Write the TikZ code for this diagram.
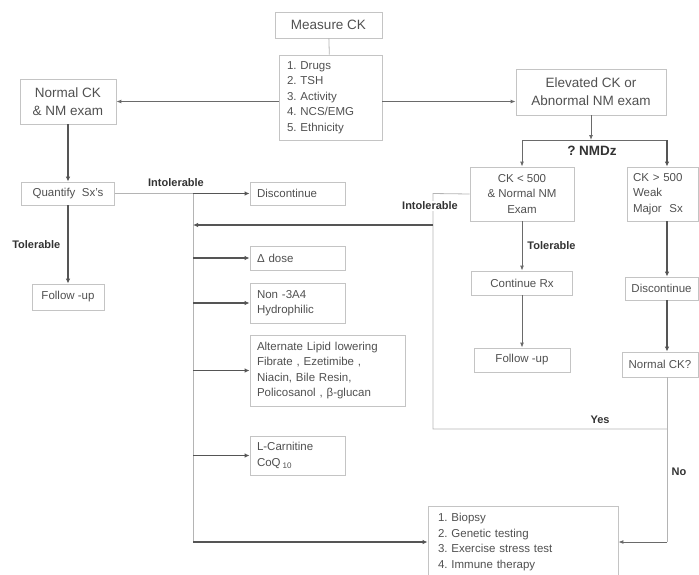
\documentclass[tikz,border=0pt]{standalone}
\usepackage{fontspec}
\setmainfont{Liberation Sans}
\usetikzlibrary{arrows.meta}
\definecolor{boxline}{HTML}{C4C4C4}
\definecolor{boxtext}{HTML}{505050}
\definecolor{heavy}{HTML}{555555}
\definecolor{medium}{HTML}{6A6A6A}
\definecolor{light}{HTML}{B4B4B4}

\begin{document}
\frenchspacing
\begin{tikzpicture}[x = 1pt, y = -1pt,
    box/.style = {draw = boxline, line width = .8pt, text = boxtext, inner sep = 0pt,
                  font = \fontsize{11.5}{15.5}\selectfont, align = center},
    bigbox/.style = {box, font = \fontsize{13.5}{18}\selectfont},
    lbox/.style = {box, align = left},
    lbl/.style = {text = black!80, inner sep = 1pt, font = \fontsize{11}{13}\selectfont\bfseries},
    heavy arrow/.style = {draw = heavy, line width = 1.3pt, -{Latex[length = 5pt, width = 4.5pt]}},
    mid arrow/.style = {draw = medium, line width = .9pt, -{Latex[length = 5pt, width = 4pt]}},
    mid line/.style = {draw = medium, line width = .9pt},
    thin line/.style = {draw = light, line width = .8pt}]
  \useasboundingbox (0, 0) rectangle (699, 574);
  \clip (0, 0) rectangle (699, 574);

  % top
  \node[bigbox, minimum width = 107, minimum height = 26] (measure) at (328.5, 25) {Measure CK};
  \node[lbox, minimum width = 103, minimum height = 85, text width = 87] (checks) at (330.5, 97.5)
    {1. Drugs\\2. TSH\\3. Activity\\4. NCS/EMG\\5. Ethnicity};
  \node[bigbox, minimum width = 96, minimum height = 45] (normal) at (68, 101.5) {Normal CK\\\& NM exam};
  \node[bigbox, minimum width = 150, minimum height = 46] (elevated) at (591, 92) {Elevated CK or\\Abnormal NM exam};

  % left branch
  \node[box, minimum width = 93, minimum height = 23] (quantify) at (68, 193.5) {Quantify\ \ Sx's};
  \node[box, minimum width = 72, minimum height = 26] (followl) at (68, 297) {Follow -up};
  \node[lbox, minimum width = 95, minimum height = 23, text width = 81] (stopl) at (297.5, 193.5) {Discontinue};
  \node[lbox, minimum width = 95, minimum height = 24, text width = 81] (dose) at (297.5, 258) {Δ dose};
  \node[lbox, minimum width = 95, minimum height = 40, text width = 81] (nonthree) at (297.5, 303) {Non -3A4\\Hydrophilic};
  \node[lbox, minimum width = 155, minimum height = 71, text width = 141] (altlipid) at (327.5, 370.5)
    {Alternate Lipid lowering\\Fibrate , Ezetimibe ,\\Niacin, Bile Resin,\\Policosanol , β-glucan};
  \node[lbox, minimum width = 95, minimum height = 39, text width = 81] (carnitine) at (297.5, 455.5)
    {L-Carnitine\\CoQ\,\textsubscript{10}};
  \node[lbox, minimum width = 190, minimum height = 72, text width = 170] (workup) at (523, 542)
    {1. Biopsy\\2. Genetic testing\\3. Exercise stress test\\4. Immune therapy};

  % right branch
  \node[box, minimum width = 104, minimum height = 54] (cklow) at (522, 194) {CK < 500\\\& Normal NM\\Exam};
  \node[lbox, minimum width = 71, minimum height = 54, text width = 59] (ckhigh) at (662.5, 194)
    {CK > 500\\Weak\\Major\ \ Sx};
  \node[box, minimum width = 101, minimum height = 24] (contrx) at (522, 283) {Continue Rx};
  \node[box, minimum width = 96, minimum height = 24] (followr) at (522, 360) {Follow -up};
  \node[box, minimum width = 73, minimum height = 23] (stopr) at (661.5, 288.5) {Discontinue};
  \node[box, minimum width = 76, minimum height = 25] (normalck) at (660, 364.5) {Normal CK?};

  \coordinate (spine) at (193, 193.5);
  \coordinate (spineend) at (193, 542);
  \coordinate (split) at (591, 140);
  \coordinate (splitl) at (522, 140);
  \coordinate (splitr) at (667, 140);
  \coordinate (bypass) at (433, 193.5);
  \coordinate (back) at (433, 225);
  \coordinate (yes) at (433, 429);
  \coordinate (nocorner) at (667, 429);
  \coordinate (nobottom) at (667, 542);

  \draw[thin line] (measure) -- (checks);
  \draw[mid arrow] (checks.west |- normal.east) -- (normal.east);
  \draw[mid arrow] (checks.east |- normal.east) -- (elevated.west |- normal.east);

  \draw[heavy arrow] (normal) -- (quantify);
  \draw[heavy arrow] (quantify) -- node[lbl, left = 6pt] (tolleft) {Tolerable} (followl);
  \draw[thin line] (quantify) -- (spine) -- (spineend);
  \draw[heavy arrow] (spine) -- (stopl);
  \node[lbl] (intolleft) at (176, 183) {Intolerable};
  \foreach \target in {dose, nonthree, altlipid, carnitine}
    \draw[heavy arrow] (spine |- \target.west) -- (\target.west);
  \draw[heavy arrow] (spineend) -- (workup.west);

  \draw[mid arrow] (elevated.south) -- (split);
  \draw[mid line] (splitl) -- (splitr);
  \draw[mid arrow] (splitl) -- (cklow.north);
  \draw[heavy arrow] (splitr) -- (splitr |- ckhigh.north);
  \node[lbl, font = \fontsize{13.5}{15}\selectfont\bfseries] (nmdz) at (592, 151) {? NMDz};

  \draw[mid arrow] (cklow) -- node[lbl, right = 4pt] (tolright) {Tolerable} (contrx);
  \draw[mid arrow] (contrx) -- (followr);
  \draw[thin line] (cklow.west) -- (bypass) -- (yes) -- (nocorner);
  \node[lbl, fill = white] (intolright) at (430, 206) {Intolerable};
  \draw[heavy arrow] (back) -- (spine |- back);
  \node[lbl] (yeslbl) at (600, 420) {Yes};

  \draw[heavy arrow] (ckhigh.south -| splitr) -- (stopr.north -| splitr);
  \draw[heavy arrow] (stopr.south -| splitr) -- (normalck.north -| splitr);
  \draw[thin line] (normalck.south -| splitr) -- (nobottom);
  \draw[mid arrow] (nobottom) -- (workup.east);
  \node[lbl] (nolbl) at (679, 472) {No};
\end{tikzpicture}
\end{document}
